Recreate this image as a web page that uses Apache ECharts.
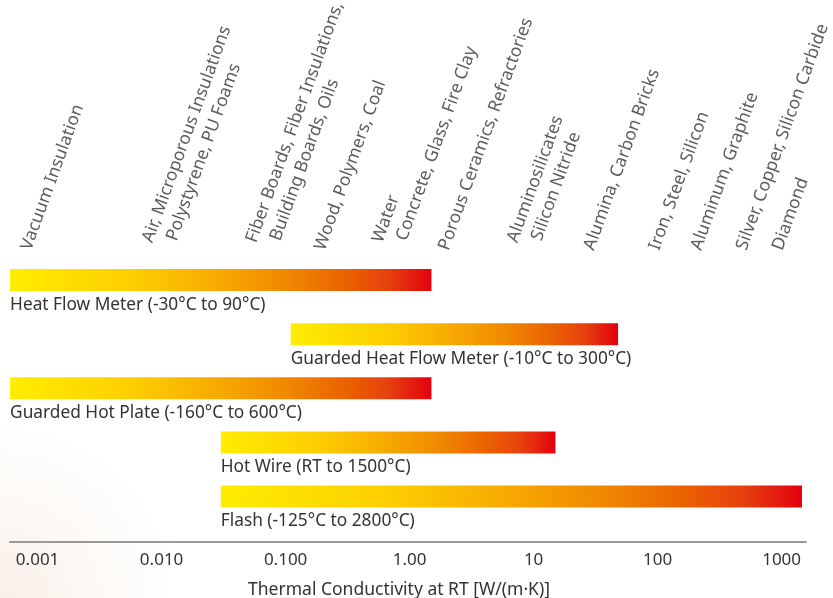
<!DOCTYPE html>
<html><head><meta charset="utf-8">
<script src="https://cdn.jsdelivr.net/npm/echarts@6/dist/echarts.min.js"></script>
<style>html,body{margin:0;padding:0;background:#fff}#c{width:833px;height:598px}</style>
</head><body><div id="c"></div>
<script>
// Measurement methods (rows, top to bottom)
const methods = [
  'Heat Flow Meter (-30°C to 90°C)',
  'Guarded Heat Flow Meter (-10°C to 300°C)',
  'Guarded Hot Plate (-160°C to 600°C)',
  'Hot Wire (RT to 1500°C)',
  'Flash (-125°C to 2800°C)'
];
// Measurable thermal conductivity range, W/(m·K)
const rangeLow  = [0.0006, 0.11, 0.0006, 0.03, 0.03];
const rangeHigh = [1.5, 48, 1.5, 15, 1460];

// Materials and their approximate thermal conductivity, W/(m·K)
const materials = [
  'Vacuum Insulation',
  'Air, Microporous Insulations\nPolystyrene, PU Foams',
  'Fiber Boards, Fiber Insulations,\nBuilding Boards, Oils',
  'Wood, Polymers, Coal',
  'Water\nConcrete, Glass, Fire Clay',
  'Porous Ceramics, Refractories',
  'Aluminosilicates\nSilicon Nitride',
  'Alumina, Carbon Bricks',
  'Iron, Steel, Silicon',
  'Aluminum, Graphite',
  'Silver, Copper, Silicon Carbide',
  'Diamond'
];
const materialK = [0.00075, 0.0105, 0.072, 0.175, 0.75, 1.75, 9.2, 26, 87, 190, 440, 860];

// Axis tick values and labels
const tickValues = [0.001, 0.01, 0.1, 1, 10, 100, 1000];
const tickLabels = ['0.001', '0.010', '0.100', '1.00', '10', '100', '1000'];

const FONT = '"Noto Sans", sans-serif';
const TEXT = '#333333';
const BAR_H = 22;
const LABEL_ROW = 0.425;

const grad = () => new echarts.graphic.LinearGradient(0, 0, 1, 0, [
  { offset: 0, color: '#FFED00' },
  { offset: 0.3, color: '#FDCD00' },
  { offset: 0.5, color: '#F7A800' },
  { offset: 0.65, color: '#F08A00' },
  { offset: 0.8, color: '#EA6100' },
  { offset: 0.9, color: '#E6400E' },
  { offset: 1, color: '#E3000F' }
]);

const barData = methods.map((m, i) => [rangeLow[i], rangeHigh[i], i + 1]);
const matData = materials.map((m, i) => ({ name: m, value: [materialK[i], LABEL_ROW] }));

const chart = echarts.init(document.getElementById('c'), null, { renderer: 'canvas' });
chart.setOption({
  animation: false,
  backgroundColor: '#ffffff',
  graphic: [{
    type: 'rect', z: -100, silent: true,
    shape: { x: 0, y: 0, width: 833, height: 598 },
    style: { fill: new echarts.graphic.RadialGradient(0, 1, 0.3, [
      { offset: 0, color: '#F9F0E8' },
      { offset: 0.6, color: '#FDFAF7' },
      { offset: 1, color: '#FFFFFF' }
    ]) }
  }],
  grid: { left: 10, right: 27, top: 226, bottom: 56, containLabel: false, outerBoundsMode: 'none' },
  xAxis: {
    type: 'log', logBase: 10,
    min: 0.000599, max: 1573,
    axisLine: { show: true, onZero: false, lineStyle: { color: '#999999', width: 2 } },
    axisTick: { show: false },
    splitLine: { show: false },
    axisLabel: {
      color: TEXT, fontFamily: FONT, fontSize: 17, margin: 10,
      showMinLabel: false, showMaxLabel: false,
      formatter: function (v) {
        const lv = Math.log10(v);
        const e = Math.round(lv);
        if (Math.abs(lv - e) > 1e-6) return '';
        const idx = tickValues.findIndex(t => Math.abs(Math.log10(t) - e) < 1e-6);
        return idx >= 0 ? tickLabels[idx] : '';
      }
    },
    name: 'Thermal Conductivity at RT [W/(m·K)]',
    nameLocation: 'middle', nameGap: 39,
    nameTextStyle: { color: TEXT, fontFamily: FONT, fontSize: 17.5, padding: [0, 18, 0, 0] }
  },
  yAxis: { type: 'value', inverse: true, min: 0, max: 5.84, show: false, splitLine: { show: false } },
  series: [
    {
      type: 'custom',
      data: barData,
      encode: { x: [0, 1], y: 2 },
      clip: false,
      renderItem: function (params, api) {
        const s = api.coord([api.value(0), api.value(2)]);
        const e = api.coord([api.value(1), api.value(2)]);
        return {
          type: 'group',
          children: [
            { type: 'rect', shape: { x: s[0], y: s[1] - BAR_H / 2, width: e[0] - s[0], height: BAR_H },
              style: { fill: grad() } },
            { type: 'text', x: s[0], y: s[1] + BAR_H / 2 + 14,
              style: { text: methods[params.dataIndex], fill: TEXT, font: '17.3px ' + FONT,
                       textAlign: 'left', textVerticalAlign: 'middle' } }
          ]
        };
      }
    },
    {
      type: 'scatter',
      data: matData,
      symbolSize: 0,
      clip: false,
      label: {
        show: true, position: [0, 0], rotate: 70, align: 'left', verticalAlign: 'bottom',
        offset: [1, 15],
        color: TEXT, fontFamily: FONT, fontSize: 17.5, lineHeight: 22,
        formatter: function (p) {
          return p.name.split('\n').map((l, i) => (i ? '{b|' + l + '}' : '{a|' + l + '}')).join('\n');
        },
        rich: {
          a: { color: TEXT, fontFamily: FONT, fontSize: 17.5, lineHeight: 22 },
          b: { color: TEXT, fontFamily: FONT, fontSize: 17.5, lineHeight: 22, padding: [0, 0, 0, 10] }
        }
      }
    }
  ]
});
</script></body></html>
